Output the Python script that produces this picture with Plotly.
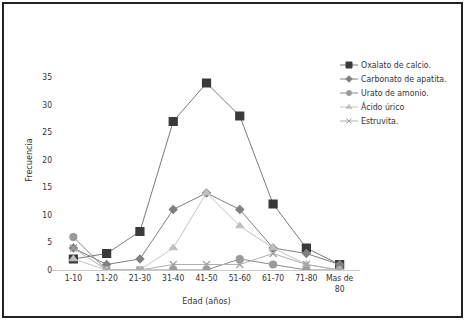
import plotly.graph_objects as go

categories = ["1-10", "11-20", "21-30", "31-40", "41-50", "51-60", "61-70", "71-80", "Mas de<br>80"]
oxalato = [2, 3, 7, 27, 34, 28, 12, 4, 1]
carbonato = [4, 1, 2, 11, 14, 11, 4, 3, 1]
urato = [6, 0, 0, 0, 0, 2, 1, 0, 0]
acido = [2, 0, 0, 4, 14, 8, 4, 1, 0]
estruvita = [4, 0, 0, 1, 1, 1, 3, 1, 0]
y_ticks = [0, 5, 10, 15, 20, 25, 30, 35]

FONT = "Liberation Sans Narrow, Arial Narrow, DejaVu Sans Condensed, sans-serif"

series = [
    ("Oxalato de calcio.", oxalato, "square", 8, "#3a3a3a", "#7a7a7a"),
    ("Carbonato de apatita.", carbonato, "diamond", 6, "#808080", "#808080"),
    ("Urato de amonio.", urato, "circle", 7, "#9a9a9a", "#8a8a8a"),
    ("Ácido úrico", acido, "triangle-up", 7, "#c0c0c0", "#c4c4c4"),
    ("Estruvita.", estruvita, "x-thin", 7, "#a0a0a0", "#b0b0b0"),
]

W, H = 466, 321
L, R, T, B = 53, 106, 50, 51
pw, ph = W - L - R, H - T - B

def px(x):
    return (x - L) / pw

def py(y):
    return (H - B - y) / ph

fig = go.Figure()
annotations = []
LEG_X0, LEG_X1, LEG_Y0, LEG_DY = 340, 358, 65, 14
for i, (name, vals, sym, size, mcol, lcol) in enumerate(series):
    fig.add_trace(go.Scatter(
        x=categories, y=vals, name=name, mode="lines+markers",
        line=dict(color=lcol, width=1), showlegend=False,
        marker=dict(symbol=sym, size=size, color=mcol,
                    line=dict(color=mcol, width=1.2)),
    ))
    ly = LEG_Y0 + i * LEG_DY
    # legend key on a pixel-unit overlay axis
    fig.add_trace(go.Scatter(
        x=[LEG_X0, LEG_X1], y=[ly, ly], mode="lines", xaxis="x2", yaxis="y2",
        line=dict(color=lcol, width=1), showlegend=False, hoverinfo="skip"))
    fig.add_trace(go.Scatter(
        x=[(LEG_X0 + LEG_X1) / 2], y=[ly], mode="markers", xaxis="x2", yaxis="y2",
        marker=dict(symbol=sym, size=max(size - 2, 5), color=mcol,
                    line=dict(color=mcol, width=1)),
        cliponaxis=False, showlegend=False, hoverinfo="skip"))
    annotations.append(dict(text=name, xref="paper", yref="paper",
                            x=px(LEG_X1 + 1), y=py(ly), xanchor="left", yanchor="middle",
                            showarrow=False, font=dict(size=8.7, family=FONT, color="#333333")))

fig.update_layout(
    width=W, height=H,
    margin=dict(l=L, r=R, t=T, b=B),
    paper_bgcolor="white", plot_bgcolor="white",
    font=dict(family=FONT, size=8.5, color="#333333"),
    showlegend=False,
    annotations=annotations,
    xaxis=dict(showgrid=False, showline=True, linecolor="#c8c8c8", linewidth=1,
               ticks="", tickfont=dict(size=8.5), zeroline=False,
               title=dict(text="Edad (años)", font=dict(size=9), standoff=4)),
    yaxis=dict(range=[0, 40], tickvals=y_ticks, showgrid=False, showline=False,
               zeroline=False, ticks="", tickfont=dict(size=8.5),
               title=dict(text="Frecuencia", font=dict(size=9), standoff=8)),
    xaxis2=dict(overlaying="x", anchor="y2", range=[L, L + pw], visible=False),
    yaxis2=dict(overlaying="y", anchor="x2", range=[H - B, T], visible=False),
    shapes=[dict(type="rect", xref="paper", yref="paper",
                 x0=px(3), x1=px(462), y0=py(317), y1=py(3),
                 line=dict(color="#222222", width=2))],
)

fig.write_html("out.html", config={"displayModeBar": False},
               post_script="document.body.style.margin='0';")
